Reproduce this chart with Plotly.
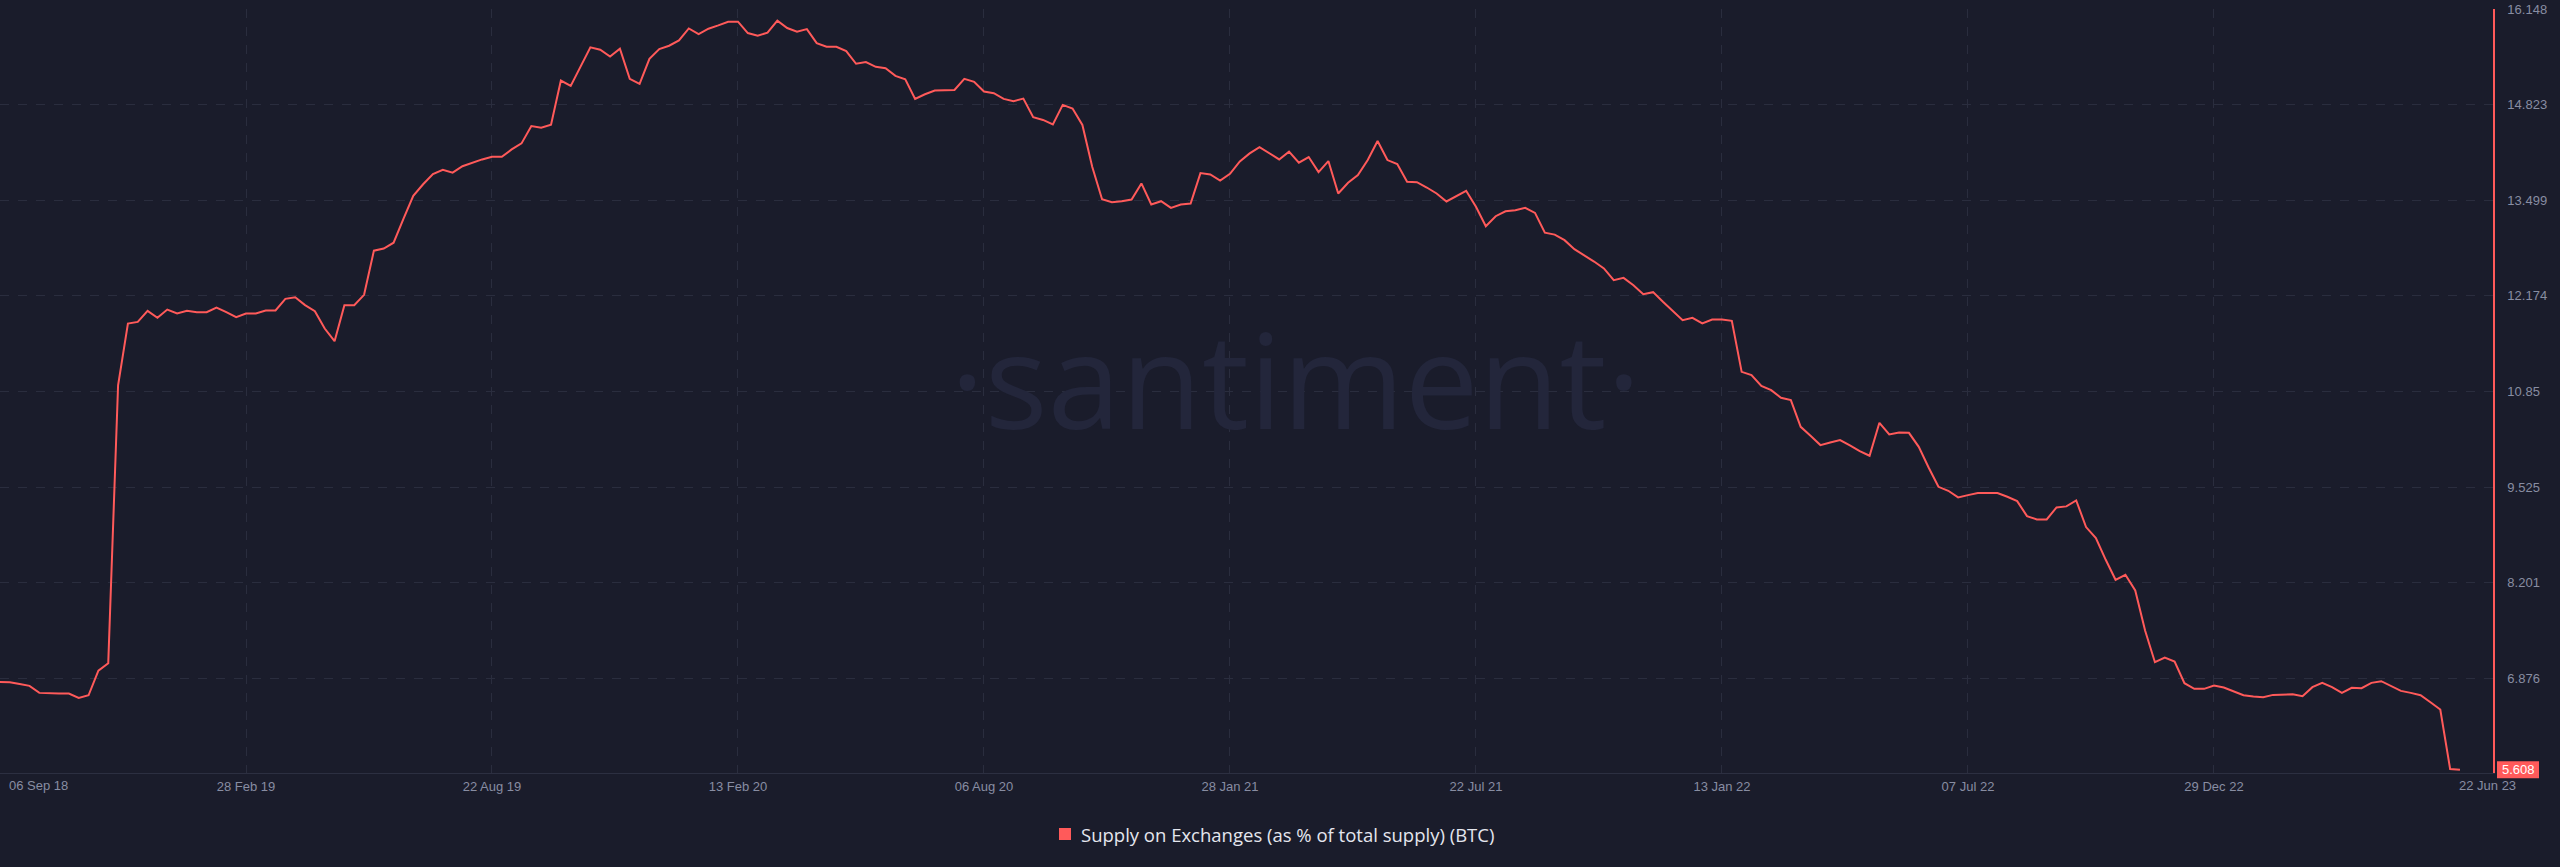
import plotly.graph_objects as go
import pandas as pd

# ---------------- data ----------------
start_date = "2018-09-06"
supply_pct = [
    6.825, 6.821, 6.797, 6.770, 6.673, 6.663, 6.663, 6.663, 6.603, 6.640,
    6.982, 7.084, 10.935, 11.790, 11.813, 11.966, 11.869, 11.984, 11.929, 11.966,
    11.947, 11.947, 12.012, 11.947, 11.878, 11.929, 11.929, 11.971, 11.971, 12.132,
    12.155, 12.045, 11.961, 11.721, 11.545, 12.045, 12.045, 12.188,
    12.80, 12.83, 12.91, 13.24, 13.56, 13.72, 13.86, 13.92, 13.88, 13.97, 14.02,
    14.064, 14.101, 14.101, 14.203, 14.286, 14.527, 14.504, 14.546, 15.157, 15.083,
    15.351, 15.616, 15.583, 15.490, 15.597, 15.180, 15.111, 15.458, 15.592, 15.639,
    15.713, 15.879, 15.801, 15.875, 15.921, 15.972, 15.972, 15.815, 15.778, 15.819,
    15.986, 15.884, 15.833, 15.870, 15.676, 15.625, 15.625, 15.565, 15.389, 15.412,
    15.347, 15.328, 15.222, 15.175, 14.902, 14.967, 15.018, 15.023, 15.027, 15.180,
    15.138, 15.004, 14.981,
    14.902, 14.870, 14.907, 14.648, 14.611, 14.550, 14.819, 14.768, 14.541, 13.962,
    13.513, 13.471, 13.485, 13.508, 13.731, 13.439, 13.485, 13.393, 13.439, 13.453,
    13.874, 13.856, 13.772, 13.865, 14.036, 14.147, 14.235, 14.152, 14.064, 14.171,
    14.018, 14.097, 13.888, 14.041, 13.592, 13.740, 13.846, 14.055, 14.319, 14.055,
    14.000, 13.754, 13.749, 13.675, 13.592, 13.481, 13.555, 13.629, 13.407, 13.138,
    13.277, 13.346, 13.360, 13.393, 13.323, 13.050, 13.022,
    12.945, 12.820, 12.737, 12.649, 12.553, 12.391, 12.423, 12.322, 12.197, 12.225,
    12.091, 11.966, 11.837, 11.869, 11.791, 11.846, 11.846, 11.828, 11.121, 11.075,
    10.927, 10.867, 10.761, 10.729, 10.359, 10.235, 10.106, 10.143, 10.175, 10.101,
    10.022, 9.958, 10.415, 10.253, 10.281, 10.276, 10.082, 9.796, 9.528, 9.473,
    9.381, 9.413, 9.441, 9.441, 9.441, 9.390, 9.330, 9.122, 9.076, 9.076,
    9.242,
    9.257, 9.340, 8.970, 8.818, 8.517, 8.240, 8.309, 8.092, 7.538, 7.098,
    7.163, 7.108, 6.807, 6.729, 6.729, 6.775, 6.747, 6.696, 6.641, 6.622,
    6.613, 6.645, 6.654, 6.654, 6.627, 6.752, 6.812, 6.752, 6.673, 6.743,
    6.738, 6.812, 6.835, 6.766, 6.701, 6.673, 6.641, 6.544, 6.442, 5.619,
    5.608,
]
dates = pd.date_range(start=start_date, periods=len(supply_pct), freq="7D")

y_tick_vals = [16.148, 14.823, 13.499, 12.174, 10.85, 9.525, 8.201, 6.876]
y_tick_text = ["16.148", "14.823", "13.499", "12.174", "10.85", "9.525", "8.201", "6.876"]

x_tick_dates = ["2018-09-06", "2019-02-28", "2019-08-22", "2020-02-13", "2020-08-06",
                "2021-01-28", "2021-07-22", "2022-01-13", "2022-07-07", "2022-12-29"]
x_tick_text = ["", "28 Feb 19", "22 Aug 19", "13 Feb 20", "06 Aug 20",
               "28 Jan 21", "22 Jul 21", "13 Jan 22", "07 Jul 22", "29 Dec 22"]
first_label = "06 Sep 18"
last_label = "22 Jun 23"
series_name = "Supply on Exchanges (as % of total supply) (BTC)"
watermark = "·santiment·"

# ---------------- style ----------------
W, H = 2560, 867
M_L, M_R, M_T, M_B = 0, 67, 9, 94
PW, PH = W - M_L - M_R, H - M_T - M_B
BG = "#1a1c2b"
GRID = "#2a2d3e"
AXIS = "#2c2f41"
RED = "#ff5a5a"
TICK = "#888da2"
Y_RANGE = [5.563, 16.148]
X_RANGE = ["2018-09-06", "2023-07-15 12:00"]


def px_x(px):
    return (px - M_L) / PW


def px_y(py):
    return (H - M_B - py) / PH


last_value = supply_pct[-1]
last_py = (last_value - Y_RANGE[0]) / (Y_RANGE[1] - Y_RANGE[0])

fig = go.Figure(
    go.Scatter(x=dates, y=supply_pct, mode="lines",
               line=dict(color=RED, width=2), name=series_name,
               showlegend=False, hoverinfo="skip")
)

tickfont = dict(family="Liberation Sans, Arial, sans-serif", size=13, color=TICK)

fig.update_layout(
    width=W, height=H,
    paper_bgcolor=BG, plot_bgcolor=BG,
    margin=dict(l=M_L, r=M_R, t=M_T, b=M_B, pad=0),
    showlegend=False,
)
fig.update_xaxes(
    range=X_RANGE, tickvals=x_tick_dates, ticktext=x_tick_text,
    showgrid=True, gridcolor=GRID, gridwidth=1, griddash="dash",
    showline=True, linecolor=AXIS, linewidth=1, zeroline=False,
    ticks="", tickfont=tickfont, ticklabelstandoff=1,
)
fig.update_yaxes(
    side="right", range=Y_RANGE, tickvals=y_tick_vals, ticktext=y_tick_text,
    showgrid=True, gridcolor=GRID, gridwidth=1, griddash="dash",
    showline=True, linecolor=RED, linewidth=1.5, zeroline=False,
    ticks="", tickfont=tickfont, ticklabelstandoff=10,
)

annotations = [
    dict(text=watermark, xref="paper", yref="paper", x=px_x(1296), y=px_y(378),
         xanchor="center", yanchor="middle", showarrow=False,
         font=dict(family="Open Sans", size=132, color="#23263b", weight=400)),
    dict(text=first_label, xref="paper", yref="paper", x=px_x(7), y=px_y(786),
         xanchor="left", yanchor="middle", showarrow=False, font=tickfont),
    dict(text=last_label, xref="paper", yref="paper", x=px_x(2487), y=px_y(786),
         xanchor="center", yanchor="middle", showarrow=False, font=tickfont),
    dict(text=series_name, xref="paper", yref="paper", x=px_x(1079), y=px_y(834),
         xanchor="left", yanchor="middle", showarrow=False,
         font=dict(family="Open Sans", size=18.5, color="#e4e6ee")),
    dict(text=f"{last_value:.3f}", xref="paper", yref="paper", x=px_x(2518), y=last_py,
         xanchor="center", yanchor="middle", showarrow=False,
         font=dict(family="Liberation Sans, Arial, sans-serif", size=13, color="#ffffff")),
]
fig.update_layout(annotations=annotations)

fig.update_layout(shapes=[
    dict(type="rect", xref="paper", yref="paper",
         x0=px_x(1059), x1=px_x(1071), y0=px_y(840), y1=px_y(828),
         fillcolor=RED, line=dict(width=0), layer="above"),
    dict(type="rect", xref="paper", yref="paper",
         x0=px_x(2497), x1=px_x(2539), y0=last_py - 8.5 / PH, y1=last_py + 8.5 / PH,
         fillcolor=RED, line=dict(width=0), layer="above"),
])

fig.write_html(
    "out.html",
    config={"displayModeBar": False},
    post_script="document.body.style.margin='0';document.body.style.background='#1a1c2b';",
)
